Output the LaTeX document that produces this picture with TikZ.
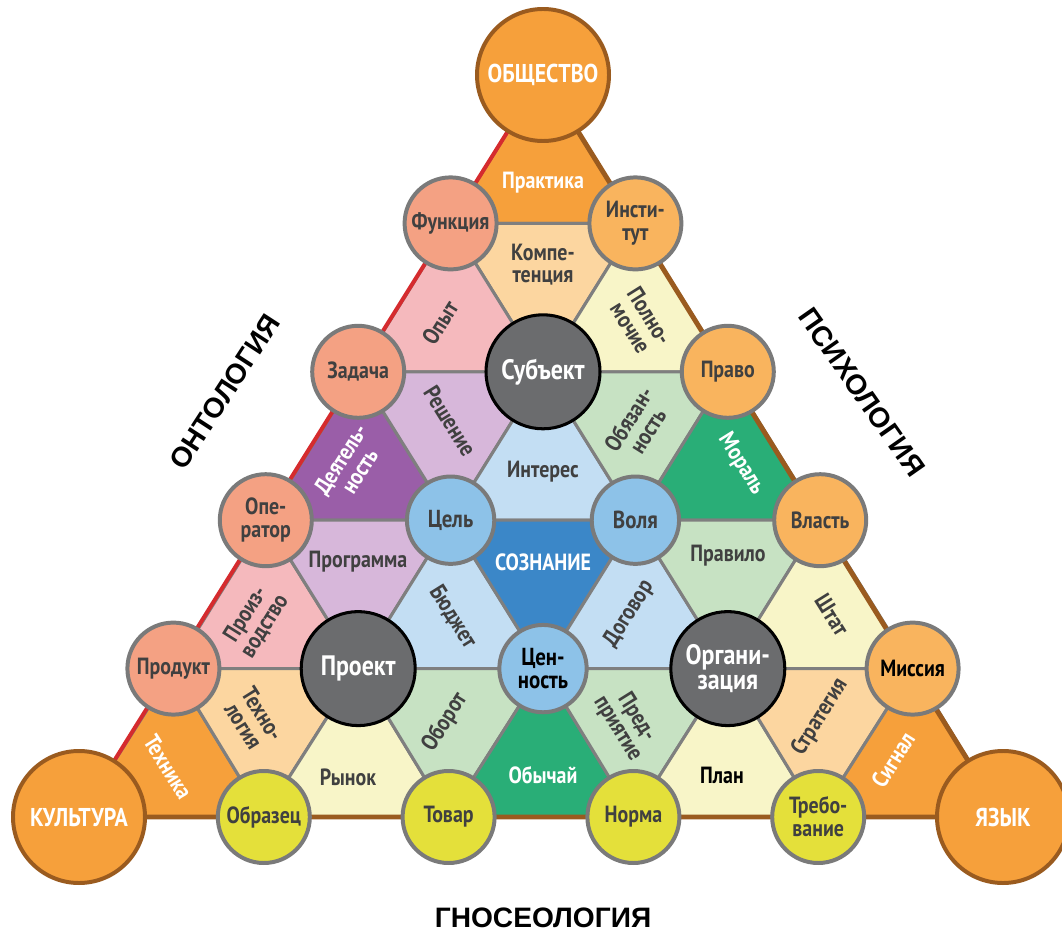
\documentclass[tikz,border=0pt]{standalone}
\usepackage{fontspec}
\setmainfont{PT Sans}[FakeStretch=0.85]
\newfontfamily\sidefont{Liberation Sans}
\usetikzlibrary{positioning}
\definecolor{CellLine}{HTML}{7F7F7F}
\definecolor{RingGray}{HTML}{7A7A7A}
\definecolor{TextGray}{HTML}{404040}
\definecolor{EdgeRed}{HTML}{D52B2E}
\definecolor{EdgeBrown}{HTML}{9A5B1F}
\definecolor{Orange}{HTML}{F6A03B}
\definecolor{Peach}{HTML}{FCD6A0}
\definecolor{Pink}{HTML}{F5B9BD}
\definecolor{Cream}{HTML}{F8F5C8}
\definecolor{Purple}{HTML}{9A5EA8}
\definecolor{Lilac}{HTML}{D7B7DA}
\definecolor{SkyLight}{HTML}{C3DEF3}
\definecolor{Mint}{HTML}{C7E2C3}
\definecolor{Green}{HTML}{29AE77}
\definecolor{Blue}{HTML}{3B87C8}
\definecolor{Salmon}{HTML}{F4A183}
\definecolor{Apricot}{HTML}{F9B45E}
\definecolor{Lemon}{HTML}{E4E03A}
\definecolor{Sky}{HTML}{8DC2E8}
\definecolor{Graphite}{HTML}{6B6C6E}
\tikzset{
  cell/.style={draw=CellLine, line width=2.6pt, line join=round},
  hub/.style={circle, inner sep=0pt, align=center, line width=3.4pt, draw=RingGray, text=TextGray, font=\fontsize{20}{19.5}\selectfont\bfseries},
  salmonhub/.style={hub, fill=Salmon, minimum size=2.76cm},
  amberhub/.style={hub, fill=Apricot, minimum size=2.76cm},
  lemonhub/.style={hub, fill=Lemon, minimum size=2.76cm},
  skyhub/.style={hub, fill=Sky, minimum size=2.62cm, font=\fontsize{21}{20}\selectfont\bfseries},
  darkhub/.style={hub, fill=Graphite, draw=black, line width=2.6pt, text=white, minimum size=3.42cm, font=\fontsize{24}{21.5}\selectfont\bfseries},
  cornerhub/.style={hub, fill=Orange, draw=EdgeBrown, minimum size=3.96cm, text=white, font=\fontsize{22}{22}\selectfont\bfseries},
  lbl/.style={align=center, text=TextGray, inner sep=0pt, font=\fontsize{20}{19}\selectfont\bfseries},
  lightlbl/.style={lbl, text=white},
  side/.style={inner sep=0pt, font=\sidefont\fontsize{24}{26}\selectfont\bfseries},
  rededge/.style={draw=EdgeRed, line width=3.4pt, line cap=round},
  brownedge/.style={draw=EdgeBrown, line width=4.2pt, line cap=round, line join=round}
}

\begin{document}
\begin{tikzpicture}[x=0.03cm, y=-0.03cm]
  \useasboundingbox (0,0) rectangle (1062,935);

  % lattice points
  \coordinate (obsh) at (543,75);
  \coordinate (func) at (450.6,223.4);
  \coordinate (inst) at (635.4,223.4);
  \coordinate (zad) at (358.2,371.8);
  \coordinate (subj) at (543,371.8);
  \coordinate (prav) at (727.8,371.8);
  \coordinate (oper) at (265.8,520.2);
  \coordinate (cel) at (450.6,520.2);
  \coordinate (vol) at (635.4,520.2);
  \coordinate (vlast) at (820.2,520.2);
  \coordinate (prod) at (173.4,668.6);
  \coordinate (proj) at (358.2,668.6);
  \coordinate (cen) at (543,668.6);
  \coordinate (org) at (727.8,668.6);
  \coordinate (miss) at (912.6,668.6);
  \coordinate (kult) at (79,817);
  \coordinate (obr) at (263.8,817);
  \coordinate (tov) at (448.6,817);
  \coordinate (norm) at (633.4,817);
  \coordinate (treb) at (818.2,817);
  \coordinate (yaz) at (1003,817);

  % cells
  \filldraw[cell, fill=Orange] (obsh) -- (func) -- (inst) -- cycle;
  \filldraw[cell, fill=Peach] (func) -- (inst) -- (subj) -- cycle;
  \filldraw[cell, fill=Pink] (func) -- (zad) -- (subj) -- cycle;
  \filldraw[cell, fill=Cream] (inst) -- (subj) -- (prav) -- cycle;
  \filldraw[cell, fill=Purple] (zad) -- (oper) -- (cel) -- cycle;
  \filldraw[cell, fill=Lilac] (zad) -- (subj) -- (cel) -- cycle;
  \filldraw[cell, fill=SkyLight] (subj) -- (cel) -- (vol) -- cycle;
  \filldraw[cell, fill=Mint] (subj) -- (prav) -- (vol) -- cycle;
  \filldraw[cell, fill=Green] (prav) -- (vol) -- (vlast) -- cycle;
  \filldraw[cell, fill=Pink] (oper) -- (prod) -- (proj) -- cycle;
  \filldraw[cell, fill=Lilac] (oper) -- (cel) -- (proj) -- cycle;
  \filldraw[cell, fill=SkyLight] (cel) -- (proj) -- (cen) -- cycle;
  \filldraw[cell, fill=Blue] (cel) -- (vol) -- (cen) -- cycle;
  \filldraw[cell, fill=SkyLight] (vol) -- (cen) -- (org) -- cycle;
  \filldraw[cell, fill=Mint] (vol) -- (vlast) -- (org) -- cycle;
  \filldraw[cell, fill=Cream] (vlast) -- (org) -- (miss) -- cycle;
  \filldraw[cell, fill=Orange] (prod) -- (kult) -- (obr) -- cycle;
  \filldraw[cell, fill=Peach] (prod) -- (proj) -- (obr) -- cycle;
  \filldraw[cell, fill=Cream] (proj) -- (obr) -- (tov) -- cycle;
  \filldraw[cell, fill=Mint] (proj) -- (cen) -- (tov) -- cycle;
  \filldraw[cell, fill=Green] (cen) -- (tov) -- (norm) -- cycle;
  \filldraw[cell, fill=Mint] (cen) -- (org) -- (norm) -- cycle;
  \filldraw[cell, fill=Cream] (org) -- (norm) -- (treb) -- cycle;
  \filldraw[cell, fill=Peach] (org) -- (miss) -- (treb) -- cycle;
  \filldraw[cell, fill=Orange] (miss) -- (treb) -- (yaz) -- cycle;

  % outer sides
  \draw[rededge] (obsh) -- (kult);
  \draw[brownedge] (kult) -- (yaz) -- (obsh);

  % circles
  \node[cornerhub] (obshchestvo) at (obsh) {ОБЩЕСТВО};
  \node[cornerhub] (kultura) at (kult) {КУЛЬТУРА};
  \node[cornerhub] (yazyk) at (yaz) {ЯЗЫК};
  \node[salmonhub] (funkciya) at (func) {Функция};
  \node[salmonhub] (zadacha) at (zad) {Задача};
  \node[salmonhub] (operator) at (oper) {Опе-\\ратор};
  \node[salmonhub] (produkt) at (prod) {Продукт};
  \node[amberhub] (institut) at (inst) {Инсти-\\тут};
  \node[amberhub] (pravo) at (prav) {Право};
  \node[amberhub] (vlast-c) at (vlast) {Власть};
  \node[amberhub, text=black] (missiya) at (miss) {Миссия};
  \node[lemonhub] (obrazec) at (obr) {Образец};
  \node[lemonhub] (tovar) at (tov) {Товар};
  \node[lemonhub] (norma) at (norm) {Норма};
  \node[lemonhub] (trebovanie) at (treb) {Требо-\\вание};
  \node[skyhub] (cel-c) at (cel) {Цель};
  \node[skyhub] (volya) at (vol) {Воля};
  \node[skyhub, text=black] (cennost) at (cen) {Цен-\\ность};
  \node[darkhub] (subjekt) at (subj) {Субъект};
  \node[darkhub] (proekt) at (proj) {Проект};
  \node[darkhub] (organizaciya) at (org) {Органи-\\зация};

  % cell labels
  \node[lightlbl] (praktika) at (543,183) {Практика};
  \node[lbl] (kompetenciya) at (543,265) {Компе-\\тенция};
  \node[lbl, rotate=58] (opyt) at (440,323) {Опыт};
  \node[lbl, rotate=-58] (polnomochie) at (640,322) {Полно-\\мочие};
  \node[lightlbl, rotate=58] (deyatelnost) at (350,465) {Деятель-\\ность};
  \node[lbl, rotate=-58] (reshenie) at (450,421) {Решение};
  \node[lbl] (interes) at (543,472) {Интерес};
  \node[lbl, rotate=58] (obyazannost) at (638,425) {Обязан-\\ность};
  \node[lightlbl, rotate=-58] (moral) at (741,464) {Мораль};
  \node[lbl, rotate=58] (proizvodstvo) at (255,620) {Произ-\\водство};
  \node[lbl] (programma) at (358,562) {Программа};
  \node[lbl, rotate=-58] (byudzhet) at (453,617) {Бюджет};
  \node[lightlbl] (soznanie) at (543,562) {СОЗНАНИЕ};
  \node[lbl, rotate=58] (dogovor) at (629,614) {Договор};
  \node[lbl] (pravilo) at (728,556) {Правило};
  \node[lbl, rotate=-58] (shtat) at (832,615) {Штат};
  \node[lightlbl, rotate=-58] (tehnika) at (168,767) {Техника};
  \node[lbl, rotate=-58] (tehnologiya) at (253,720) {Техно-\\логия};
  \node[lbl] (rynok) at (348,777) {Рынок};
  \node[lbl, rotate=58] (oborot) at (445,722) {Оборот};
  \node[lightlbl] (obychay) at (543,775) {Обычай};
  \node[lbl, rotate=-58] (predpriyatie) at (627,723) {Пред-\\приятие};
  \node[lbl, text=black] (plan) at (722,775) {План};
  \node[lbl, rotate=58] (strategiya) at (820,717) {Стратегия};
  \node[lightlbl, rotate=58] (signal) at (893,760) {Сигнал};

  % sides
  \node[side, rotate=57] (ontologiya) at (225,392) {ОНТОЛОГИЯ};
  \node[side, rotate=-55] (psihologiya) at (862,392) {ПСИХОЛОГИЯ};
  \node[side] (gnoseologiya) at (543,918) {ГНОСЕОЛОГИЯ};
\end{tikzpicture}
\end{document}
